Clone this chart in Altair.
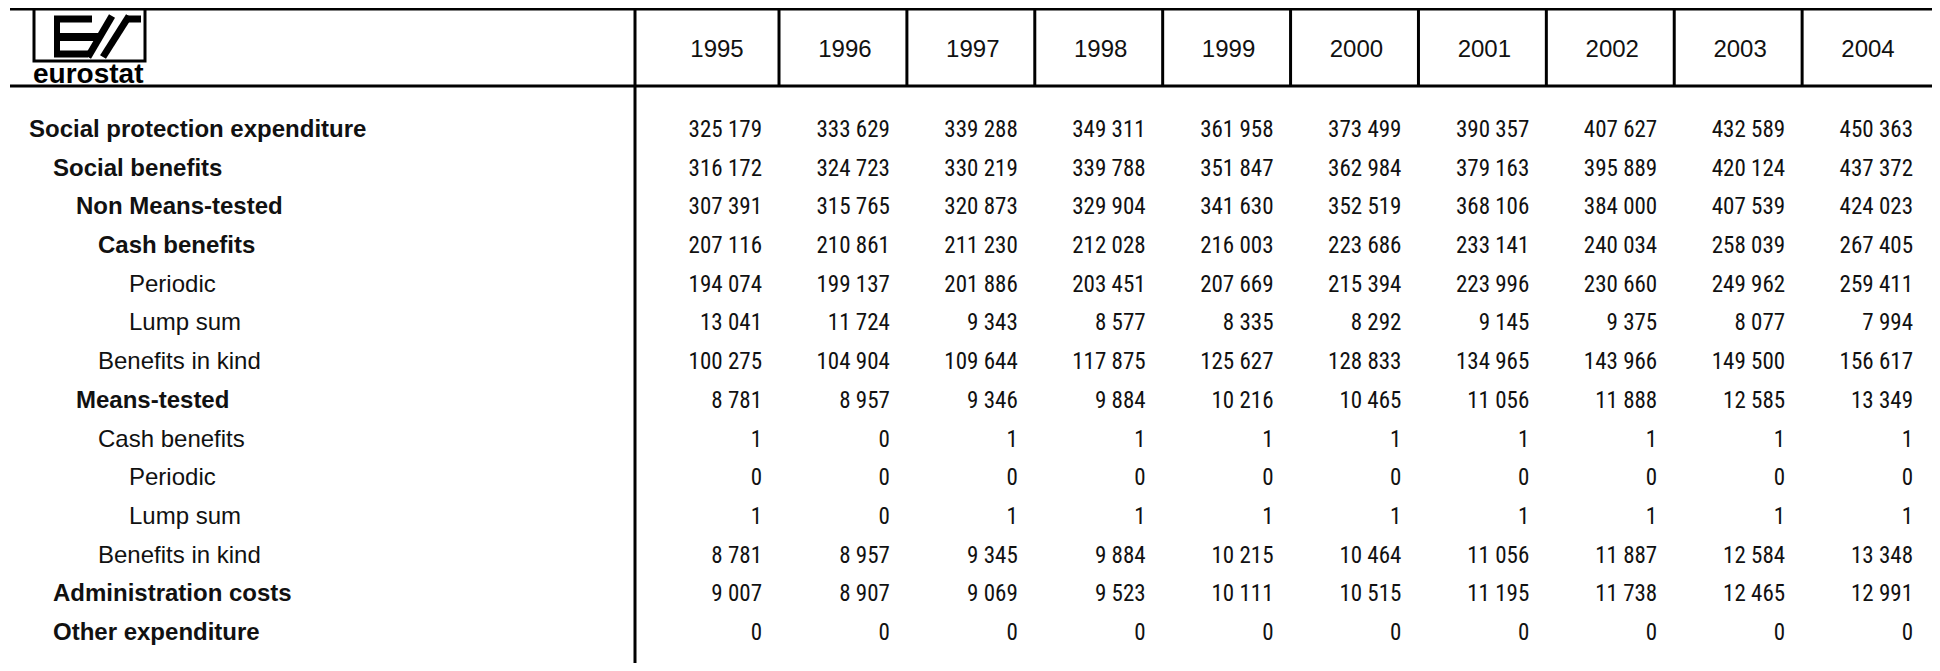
import altair as alt
import pandas as pd

# ---------------- data ----------------
years = [1995, 1996, 1997, 1998, 1999, 2000, 2001, 2002, 2003, 2004]

labels = [
    "Social protection expenditure",
    "Social benefits",
    "Non Means-tested",
    "Cash benefits",
    "Periodic",
    "Lump sum",
    "Benefits in kind",
    "Means-tested",
    "Cash benefits",
    "Periodic",
    "Lump sum",
    "Benefits in kind",
    "Administration costs",
    "Other expenditure",
]
levels = [0, 1, 2, 3, 4, 4, 3, 2, 3, 4, 4, 3, 1, 1]
bold = [True, True, True, True, False, False, False, True, False, False, False, False, True, True]

v_total = [325179, 333629, 339288, 349311, 361958, 373499, 390357, 407627, 432589, 450363]
v_benefits = [316172, 324723, 330219, 339788, 351847, 362984, 379163, 395889, 420124, 437372]
v_nonmeans = [307391, 315765, 320873, 329904, 341630, 352519, 368106, 384000, 407539, 424023]
v_nm_cash = [207116, 210861, 211230, 212028, 216003, 223686, 233141, 240034, 258039, 267405]
v_nm_periodic = [194074, 199137, 201886, 203451, 207669, 215394, 223996, 230660, 249962, 259411]
v_nm_lump = [13041, 11724, 9343, 8577, 8335, 8292, 9145, 9375, 8077, 7994]
v_nm_kind = [100275, 104904, 109644, 117875, 125627, 128833, 134965, 143966, 149500, 156617]
v_means = [8781, 8957, 9346, 9884, 10216, 10465, 11056, 11888, 12585, 13349]
v_m_cash = [1, 0, 1, 1, 1, 1, 1, 1, 1, 1]
v_m_periodic = [0, 0, 0, 0, 0, 0, 0, 0, 0, 0]
v_m_lump = [1, 0, 1, 1, 1, 1, 1, 1, 1, 1]
v_m_kind = [8781, 8957, 9345, 9884, 10215, 10464, 11056, 11887, 12584, 13348]
v_admin = [9007, 8907, 9069, 9523, 10111, 10515, 11195, 11738, 12465, 12991]
v_other = [0, 0, 0, 0, 0, 0, 0, 0, 0, 0]

series = [v_total, v_benefits, v_nonmeans, v_nm_cash, v_nm_periodic, v_nm_lump,
          v_nm_kind, v_means, v_m_cash, v_m_periodic, v_m_lump, v_m_kind,
          v_admin, v_other]

# ---------------- tables ----------------
cells = []
for r, vals in enumerate(series):
    for c, v in enumerate(vals):
        cells.append({"row": r, "col": c, "txt": f"{v:,}".replace(",", " ")})
cells = pd.DataFrame(cells)
lab_df = pd.DataFrame({"row": list(range(len(labels))), "label": labels,
                       "level": levels, "bold": bold})
year_df = pd.DataFrame({"col": list(range(len(years))), "year": [str(y) for y in years]})
one = pd.DataFrame({"k": [0]})

W, H = 1924, 655
LABEL_FONT = "Liberation Sans"
NUM_FONT = "'Roboto Condensed', 'Liberation Sans Narrow', 'DejaVu Sans Condensed', sans-serif"

xcol = alt.Scale(domain=[0, 9], range=[754, 1905])
yrow = alt.Scale(domain=[0, 13], range=[122, 625])
xlev = alt.Scale(domain=[0, 1, 2, 3, 4], range=[21, 45, 68, 90, 121])

numbers = alt.Chart(cells).mark_text(
    align="right", baseline="middle", font=NUM_FONT, fontSize=23, color="#111"
).encode(
    x=alt.X("col:Q", scale=xcol, axis=None),
    y=alt.Y("row:Q", scale=yrow, axis=None),
    text="txt:N",
)

year_text = alt.Chart(year_df).mark_text(
    align="center", baseline="middle", font=LABEL_FONT, fontSize=24, dx=-45, color="#111"
).encode(
    x=alt.X("col:Q", scale=xcol, axis=None),
    y=alt.value(42),
    text="year:N",
)

def label_layer(is_bold):
    return alt.Chart(lab_df).transform_filter(
        "datum.bold" if is_bold else "!datum.bold"
    ).mark_text(
        align="left", baseline="middle", font=LABEL_FONT, fontSize=24,
        fontWeight="bold" if is_bold else "normal", color="#111"
    ).encode(
        x=alt.X("level:Q", scale=xlev, axis=None),
        y=alt.Y("row:Q", scale=yrow, axis=None),
        text="label:N",
    )

def hrule(y, x1, x2, w=3):
    return alt.Chart(one).mark_rule(color="black", strokeWidth=w).encode(
        x=alt.value(x1), x2=alt.value(x2), y=alt.value(y))

def seg(x1, y1, x2, y2, w):
    return alt.Chart(one).mark_rule(color="black", strokeWidth=w, strokeCap="butt").encode(
        x=alt.value(x1), y=alt.value(y1), x2=alt.value(x2), y2=alt.value(y2))

top_line = hrule(1, 2, W)
head_line = hrule(78, 2, W)
label_sep = alt.Chart(one).mark_rule(color="black", strokeWidth=3).encode(
    x=alt.value(627), y=alt.value(1), y2=alt.value(H))

col_seps = alt.Chart(year_df).transform_filter("datum.col < 9").transform_calculate(
    sep="datum.col + 0.133"
).mark_rule(color="black", strokeWidth=3).encode(
    x=alt.X("sep:Q", scale=xcol, axis=None),
    y=alt.value(1), y2=alt.value(78),
)

# eurostat logo (approximation)
frame = alt.Chart(one).mark_rect(fillOpacity=0, stroke="black", strokeWidth=3).encode(
    x=alt.value(26), x2=alt.value(137), y=alt.value(-2), y2=alt.value(53))
logo_parts = [
    seg(49, 8, 49, 48, 6),
    seg(46, 11, 84, 11, 7),
    seg(46, 29, 92, 29, 8),
    seg(46, 46, 80, 46, 7),
    seg(80, 49, 104, 8, 7),
    seg(95, 49, 121, 8, 7),
    seg(118, 11, 133, 11, 7),
]
logo_text = alt.Chart(one).mark_text(
    align="left", baseline="alphabetic", font=LABEL_FONT, fontSize=28,
    fontWeight="bold", color="black", text="eurostat"
).encode(x=alt.value(25), y=alt.value(75))

chart = alt.layer(
    top_line, head_line, label_sep, col_seps, frame, *logo_parts, logo_text,
    year_text, numbers, label_layer(True), label_layer(False),
).resolve_scale(x="independent", y="independent").properties(
    width=W, height=H, padding=0,
    autosize=alt.AutoSizeParams(type="none"),
).configure_view(stroke=None)

chart.save("out.html", embed_options={"renderer": "svg", "actions": False})
